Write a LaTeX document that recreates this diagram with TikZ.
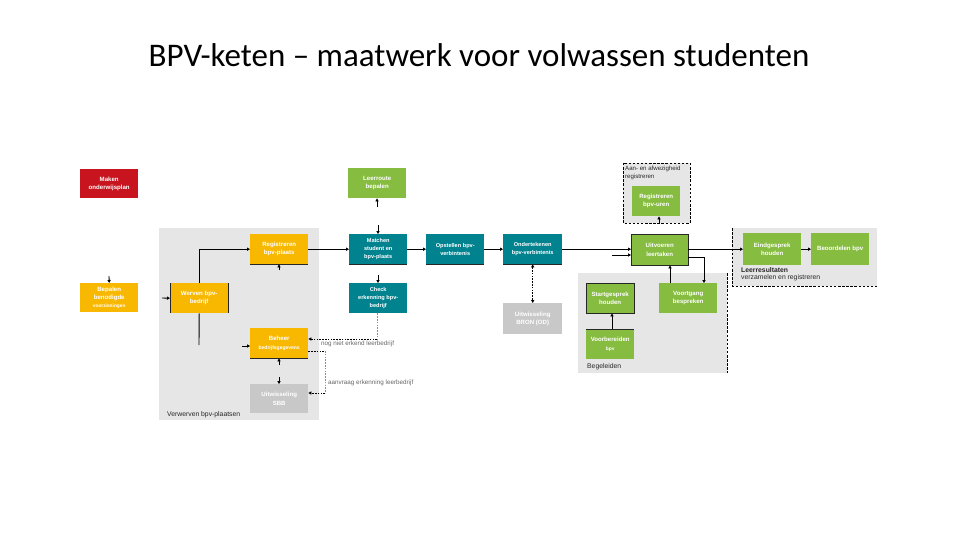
\documentclass[tikz,border=0pt]{standalone}
\usepackage{fontspec}
\setmainfont{Carlito}
\newfontfamily\arialfont{Liberation Sans}
\usetikzlibrary{arrows.meta,calc}
\definecolor{cred}{HTML}{C8141E}
\definecolor{cyel}{HTML}{F9B800}
\definecolor{cteal}{HTML}{00838F}
\definecolor{cgreen}{HTML}{86BC40}
\definecolor{cgrey}{HTML}{C8C8C8}
\definecolor{cregion}{HTML}{E6E6E6}
\tikzset{
  box/.style={anchor=north west, inner sep=0pt, minimum width=58pt, minimum height=30pt,
    align=center, text=white, font=\arialfont\bfseries\fontsize{6.1}{8.3}\selectfont},
  redbox/.style={box, fill=cred},
  yelbox/.style={box, fill=cyel},
  tealbox/.style={box, fill=cteal, font=\arialfont\bfseries\fontsize{5.6}{8.3}\selectfont},
  greenbox/.style={box, fill=cgreen},
  greybox/.style={box, fill=cgrey},
  conn/.style={line width=0.9pt, black},
  arr/.style={conn, -{Triangle[length=3pt,width=3.2pt]}},
  dotconn/.style={line width=0.8pt, black, dash pattern=on 1.6pt off 1.2pt},
  dotarr/.style={dotconn, -{Triangle[length=3pt,width=3.2pt]}},
  greydash/.style={line width=0.6pt, black!45, dash pattern=on 1.6pt off 1.2pt},
  regdash/.style={line width=0.8pt, black, dash pattern=on 2.5pt off 1.6pt},
  edgeline/.style={line width=0.7pt, black!85},
  lbl/.style={inner sep=0pt, align=left, text=black!85, font=\arialfont\fontsize{6.8}{7.6}\selectfont},
  glbl/.style={lbl, text=black!60, font=\arialfont\fontsize{6.3}{7.6}\selectfont},
}
\begin{document}
\begin{tikzpicture}[x=1pt,y=-1pt]
\useasboundingbox (0,0) rectangle (960,540);
% title
\node[anchor=base, inner sep=0pt, font=\fontsize{33}{40}\selectfont] (title) at (479,67) {BPV-keten – maatwerk voor volwassen studenten};

% regions
\fill[cregion] (159,228) rectangle (319,420);
\fill[cregion] (623,163) rectangle (690,223);
\draw[regdash] (623,163) rectangle (690,223);
\fill[cregion] (578,273) rectangle (727,373);
\draw[regdash] (727,273) -- (727,373);
\fill[cregion] (732,228) rectangle (877,286);
\draw[regdash] (732,228) -- (732,286) -- (877,286);

% region labels
\node[lbl, anchor=north west] (lverw) at (167,411) {Verwerven bpv-plaatsen};
\node[lbl, anchor=north west, font=\arialfont\fontsize{6.1}{7.6}\selectfont] (laan) at (625,166) {Aan- en afwezigheid\\registreren};
\node[lbl, anchor=west] (lbeg) at (587,367) {Begeleiden};
\node[lbl, anchor=north west] (lleer) at (741,267) {\bfseries Leerresultaten\\verzamelen en registreren};

% boxes
\node[redbox, minimum height=29pt] (maken) at (80,169) {Maken\\onderwijsplan};
\node[greenbox] (leerroute) at (348,168) {Leerroute\\bepalen};
\node[yelbox, minimum height=29pt] (bepalen) at (80,283) {Bepalen\\benodigde\\{\fontsize{4.8}{6}\selectfont voorzieningen}};
\node[yelbox] (werven) at (170,283) {Werven bpv-\\bedrijf};
\node[yelbox] (registreren) at (250,234) {Registreren\\bpv-plaats};
\node[tealbox] (matchen) at (349,234) {Matchen\\student en\\bpv-plaats};
\node[tealbox] (check) at (349,283) {Check\\erkenning bpv-\\bedrijf};
\node[yelbox] (beheer) at (250,328) {Beheer\\{\fontsize{5}{7}\selectfont bedrijfsgegevens}};
\node[greybox, minimum height=29pt] (sbb) at (250,384) {Uitwisseling\\SBB};
\node[tealbox] (opstellen) at (426,234) {Opstellen bpv-\\verbintenis};
\node[tealbox, minimum width=59pt] (ondertekenen) at (503,234) {Ondertekenen\\bpv-verbintenis};
\node[greybox, minimum width=59pt, minimum height=31pt] (bron) at (503,303) {Uitwisseling\\BRON (OD)};
\node[greenbox, minimum width=48pt] (uren) at (632,186) {Registreren\\bpv-uren};
\node[greenbox, minimum width=57pt, minimum height=31pt] (uitvoeren) at (631,234) {Uitvoeren\\leertaken};
\node[greenbox, minimum width=48pt] (startgesprek) at (586,283) {Startgesprek\\houden};
\node[greenbox, minimum width=48pt] (voorbereiden) at (586,329) {Voorbereiden\\{\fontsize{4.8}{7}\selectfont bpv}};
\node[greenbox] (voortgang) at (659,283) {Voortgang\\bespreken};
\node[greenbox, minimum height=32pt] (eindgesprek) at (743,233) {Eindgesprek\\houden};
\node[greenbox, minimum height=32pt] (beoordelen) at (811,233) {Beoordelen bpv};

% dark box edges
\draw[edgeline] (registreren.south west) -- (registreren.south east);
\draw[edgeline] (beheer.south west) -- (beheer.south east);
\draw[edgeline] (werven.north west) -- (werven.south west);
\draw[edgeline] (werven.north east) -- (werven.south east);
\draw[edgeline] (matchen.south west) -- (matchen.south east);
\draw[edgeline] (opstellen.south west) -- (opstellen.south east);
\draw[edgeline] (ondertekenen.south west) -- (ondertekenen.south east);
\draw[edgeline] (uitvoeren.north west) rectangle (uitvoeren.south east);
\draw[edgeline] (startgesprek.north west) rectangle (startgesprek.south east);
\draw[edgeline] (voorbereiden.north west) -- (voorbereiden.north east);

% free ends
\coordinate (sBep) at (109,276);
\coordinate (sWer) at (162,298);
\coordinate (wLow) at (199,345);
\coordinate (sReg) at (279,270);
\coordinate (sMat) at (378,225);
\coordinate (sLee) at (377,207);
\coordinate (sChk) at (378,275);
\coordinate (c1) at (377,339);
\coordinate (c2) at (325,351);
\coordinate (c3) at (325,393);
\coordinate (sBehL) at (242,346);
\coordinate (sBehB) at (279,365);
\coordinate (sSbb) at (279,377);
\coordinate (sUit) at (612,255);
\coordinate (sUren) at (659,223);
\coordinate (u1) at (704,257);
\coordinate (v1) at (670,0);
\coordinate (b1) at (612,0);

% connectors
\draw[arr] (sBep) -- (bepalen.north);
\draw[arr] (sWer) -- (werven.west);
\draw[conn] (wLow) -- (werven.south);
\draw[arr] (werven.north) |- (registreren.west);
\draw[arr] (sReg) -- (registreren.south -| sReg);
\draw[arr] (registreren.east) -- (matchen.west);
\draw[arr] (sMat) -- (matchen.north -| sMat);
\draw[arr] (sLee) -- (leerroute.south -| sLee);
\draw[arr] (sChk) -- (check.north -| sChk);
\draw[greydash] (check.south -| c1) -- (c1);
\draw[dotarr] (c1) -- (beheer.east |- c1);
\draw[dotconn] (beheer.east |- c2) -- (c2);
\draw[greydash] (c2) -- (c3);
\draw[dotarr] (c3) -- (sbb.east |- c3);
\draw[arr] (sBehL) -- (beheer.west |- sBehL);
\draw[arr] (sBehB) -- (beheer.south -| sBehB);
\draw[arr] (sSbb) -- (sbb.north -| sSbb);
\draw[arr] (matchen.east) -- (opstellen.west);
\draw[arr] (opstellen.east) -- (ondertekenen.west);
\draw[dotconn, {Triangle[length=3pt,width=3.2pt]}-{Triangle[length=3pt,width=3.2pt]}] (ondertekenen.south) -- (bron.north);
\draw[arr] (ondertekenen.east) -- (uitvoeren.west |- ondertekenen.east);
\draw[arr] (sUit) -- (uitvoeren.west |- sUit);
\draw[arr] (sUren) -- (uren.south -| sUren);
\draw[arr] (uitvoeren.east |- eindgesprek.west) -- (eindgesprek.west);
\draw[arr] (uitvoeren.east |- u1) -| (voortgang.north -| u1);
\draw[arr] (voortgang.north -| v1) -- (uitvoeren.south -| v1);
\draw[arr] (voorbereiden.north -| b1) -- (startgesprek.south -| b1);
\draw[arr] (eindgesprek.east) -- (beoordelen.west);

% connector labels
\node[glbl, anchor=west] (lnog) at (321,344) {nog niet erkend leerbedrijf};
\node[glbl, anchor=west] (laanv) at (328,383) {aanvraag erkenning leerbedrijf};
\end{tikzpicture}
\end{document}
